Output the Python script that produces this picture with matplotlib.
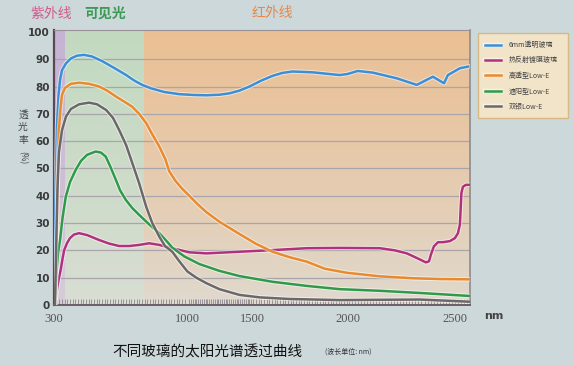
import numpy as np
import matplotlib
matplotlib.use("Agg")
from matplotlib import pyplot as plt
import matplotlib.patheffects as pe

plt.rcParams['font.family'] = ['DejaVu Sans', 'Noto Sans CJK SC']
CJK = ['Noto Sans CJK SC', 'DejaVu Sans']

# wavelength (nm) and transmittance (%)
clear_nm = [300, 305, 311, 316, 324, 332, 342, 363, 389, 421, 458, 500, 553, 616, 679, 721,
            763, 811, 879, 958, 1054, 1146, 1246, 1323, 1400, 1477, 1547, 1605, 1658, 1711,
            1816, 1958, 2000, 2047, 2117, 2229, 2322, 2397, 2449, 2467, 2523, 2561]
clear_val = [0, 25, 50, 66, 77, 82.5, 86, 88.5, 90.3, 91.3, 91.6, 91, 89.3, 86.8, 84.2, 82.2,
             80.6, 79.3, 78, 77.2, 76.9, 76.8, 77, 77.5, 78.5, 80, 82.2, 83.9, 85, 85.5,
             85.2, 84.2, 84.6, 85.7, 85.1, 83, 80.6, 83.6, 81.2, 84.2, 86.7, 87.3]

reflect_nm = [300, 305, 316, 326, 335, 345, 353, 368, 384, 405, 432, 474, 537, 589, 642, 695,
              747, 800, 853, 921, 1015, 1146, 1400, 1605, 1784, 1958, 2150, 2220, 2276, 2336,
              2364, 2379, 2388, 2402, 2421, 2444, 2477, 2500, 2514, 2523, 2527, 2530, 2537,
              2551, 2570]
reflect_val = [0, 0, 6, 10, 12.8, 17, 20, 22.6, 24.5, 25.8, 26.3, 25.6, 23.8, 22.5, 21.6, 21.6,
               22, 22.6, 22, 20.8, 19.3, 18.9, 19.5, 20.1, 20.8, 20.9, 20.8, 20, 18.9, 16.7,
               15.6, 16, 18.5, 21.5, 23, 23, 23.4, 24.5, 26.3, 29.5, 36, 41, 43.3,
               44, 44]

hitrans_nm = [300, 308, 316, 321, 326, 334, 342, 358, 389, 432, 484, 537, 579, 626, 668, 711,
              747, 784, 816, 853, 884, 905, 937, 974, 1015, 1077, 1146, 1246, 1400, 1516, 1605,
              1695, 1784, 1879, 1995, 2150, 2304, 2430, 2570]
hitrans_val = [0, 0, 30, 52, 64, 72, 77, 79.5, 81, 81.4, 81, 80, 78.5, 76.3, 74.5, 72.6,
               70, 66.6, 62.5, 58, 53.5, 49, 45.5, 42.5, 40, 37, 34, 30.5, 26, 22.5, 19.5,
               17.5, 15.9, 13.3, 11.8, 10.5, 9.8, 9.5, 9.4]

shade_nm = [300, 303, 311, 321, 332, 345, 362, 384, 414, 442, 474, 519, 547, 572, 595, 625,
            647, 677, 711, 747, 800, 853, 890, 921, 984, 1092, 1246, 1400, 1605, 1784, 1958,
            2150, 2360, 2570]
shade_val = [0, 0, 10, 19, 24, 32, 39.7, 45, 49.5, 52.8, 55, 56.2, 55.8, 54.3, 50.8, 45.8,
             42, 38.5, 35.5, 33, 29.5, 26.3, 23.5, 21, 17.8, 15, 12.5, 10.6, 8.5, 7, 5.8,
             5.2, 4.3, 3.3]

dsilver_nm = [300, 305, 311, 318, 326, 342, 363, 389, 432, 484, 526, 574, 610, 642, 679, 711,
              747, 784, 816, 853, 884, 921, 958, 1000, 1069, 1146, 1246, 1400, 1537, 1695,
              1958, 2336, 2570]
dsilver_val = [0, 0, 20, 42, 56, 64, 69, 71.8, 73.5, 74.1, 73.5, 71.4, 68.5, 64.1, 58.5, 52,
               44.6, 36, 30, 25, 21.5, 19.5, 16, 12.3, 10, 8, 5.8, 3.7, 2.8, 2.2,
               1.8, 2, 1.2]

series_labels = ["6mm透明玻璃", "热反射镀膜玻璃", "高透型Low-E", "遮阳型Low-E", "双银Low-E"]
series_colors = ["#3b8fd8", "#b2317c", "#e98a2c", "#2f9a4a", "#6c6869"]

x_ticks = [300, 1000, 1500, 2000, 2500]
y_ticks = list(range(0, 101, 10))

# the printed wavelength axis is not evenly spaced
scale_nm = [300, 1000, 1500, 2000, 2500, 2570]
scale_px = [55, 188, 253, 348, 455, 470]


def fwd(v):
    return np.interp(v, scale_nm, scale_px)


def inv(v):
    return np.interp(v, scale_px, scale_nm)


fig = plt.figure(figsize=(5.74, 3.65), dpi=100, facecolor="#cdd8db")
ax = fig.add_axes([54 / 574, 1 - 305 / 365, 416 / 574, 275 / 365])
ax.set_xscale('function', functions=(fwd, inv))
ax.set_xlim(300, 2570)
ax.set_ylim(0, 100.7)

# background bands: UV / visible / IR, fading toward the bottom
bands = [(300, 358, "#c6b2d3", "#d6ccd8"),
         (358, 774, "#c2d9c0", "#d9ddd3"),
         (774, 2570, "#eabf93", "#dfd9cf")]
n = 40
edges = np.linspace(0, 100.7, n + 1)
for x0, x1, top, bot in bands:
    ct = np.array(matplotlib.colors.to_rgb(top))
    cb = np.array(matplotlib.colors.to_rgb(bot))
    for i in range(n):
        t = (i / (n - 1)) ** 0.8
        c = cb * (1 - t) + ct * t
        ax.fill_between([x0, x1], edges[i], edges[i + 1] + 0.05, color=c, lw=0, zorder=0)

for y in y_ticks[1:-1]:
    ax.axhline(y, color="#a9a5ab", lw=0.9, zorder=1)

data = [(clear_nm, clear_val), (reflect_nm, reflect_val), (hitrans_nm, hitrans_val),
        (shade_nm, shade_val), (dsilver_nm, dsilver_val)]
for (xs, ys), lab, col in zip(data, series_labels, series_colors):
    ax.plot(xs, ys, color=col, lw=1.8, label=lab, zorder=3, solid_joinstyle='round',
            path_effects=[pe.Stroke(linewidth=3.2, foreground='white', alpha=0.55), pe.Normal()])

ax.set_xticks(x_ticks)
ax.set_xticklabels([str(t) for t in x_ticks], family='Liberation Serif', fontsize=9, color="#555555")
ax.set_xticks(np.arange(300, 2571, 14), minor=True)
ax.tick_params(axis='x', which='major', length=0, pad=6)
ax.tick_params(axis='x', which='minor', direction='in', length=4, width=0.6, color="#8d8790")
ax.set_yticks(y_ticks)
ax.set_yticklabels([str(t) for t in y_ticks], fontsize=7.5, fontweight='bold', color="#3a3a3a")
ax.tick_params(axis='y', length=0, pad=3)

ax.spines['left'].set_color("#5a4855")
ax.spines['left'].set_linewidth(1.6)
ax.spines['bottom'].set_color("#6a5f66")
ax.spines['bottom'].set_linewidth(1.4)
ax.spines['right'].set_color("#8c8c8e")
ax.spines['right'].set_linewidth(1.2)
ax.spines['top'].set_color("#9a9098")
ax.spines['top'].set_linewidth(0.8)

leg = ax.legend(loc='upper left', bbox_to_anchor=(1.01, 1.0, 0.235, 0), mode='expand',
                prop={'family': CJK, 'size': 5}, handlelength=2.2, handletextpad=1.2,
                labelspacing=1.05, borderpad=1.1, fancybox=False, framealpha=1)
leg.get_frame().set_facecolor("#f1e4c9")
leg.get_frame().set_edgecolor("#d8b982")
leg.get_frame().set_linewidth(1.0)
for t in leg.get_texts():
    t.set_color("#444444")

fig.text(51 / 574, 1 - 14 / 365, "紫外线", family=CJK, fontsize=10, color="#d45a8c",
         ha='center', va='center')
fig.text(105 / 574, 1 - 14 / 365, "可见光", family=CJK, fontsize=10, color="#3c9a55",
         ha='center', va='center', fontweight='bold')
fig.text(272 / 574, 1 - 13 / 365, "红外线", family=CJK, fontsize=10, color="#e8874a",
         ha='center', va='center')

# vertical y label, one character per line
for ch, ypx in zip("透光率", [115, 127, 140]):
    fig.text(23 / 574, 1 - ypx / 365, ch, family=CJK, fontsize=7, color="#444444",
             ha='center', va='center')
fig.text(23 / 574, 1 - 158 / 365, "(%)", family=CJK, fontsize=6, color="#444444",
         ha='center', va='center', rotation=-90)

fig.text(494 / 574, 1 - 316 / 365, "nm", fontsize=8, fontweight='bold', color="#444444",
         ha='center', va='center')
fig.text(207 / 574, 1 - 352 / 365, "不同玻璃的太阳光谱透过曲线", family=CJK, fontsize=10.5,
         color="#111111", ha='center', va='center')
fig.text(348 / 574, 1 - 352 / 365, "(波长单位: nm)", family=CJK, fontsize=5, color="#333333",
         ha='center', va='center')

fig.savefig("out.png", dpi=100, facecolor=fig.get_facecolor())
